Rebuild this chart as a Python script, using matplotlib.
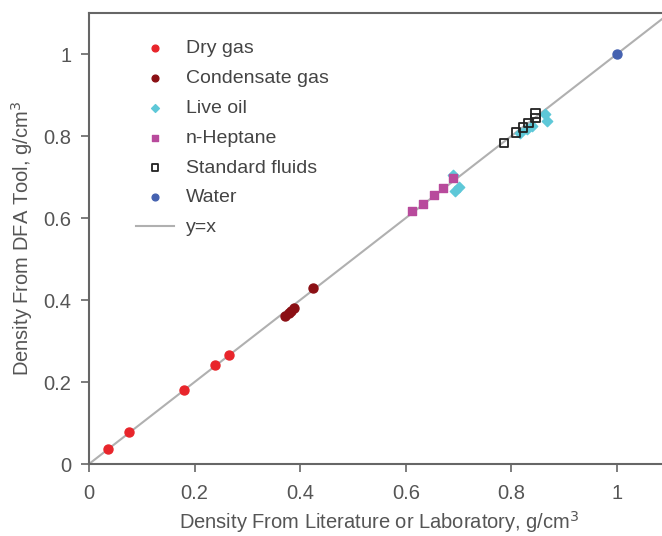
import matplotlib
matplotlib.use("Agg")
import matplotlib.pyplot as plt

plt.rcParams['font.family'] = ['Liberation Sans', 'DejaVu Sans']

# densidades (literatura/laboratorio x ferramenta DFA)
dry_x = [0.036, 0.076, 0.180, 0.239, 0.265]
dry_y = [0.036, 0.078, 0.180, 0.241, 0.265]

cond_x = [0.372, 0.378, 0.383, 0.389, 0.424]
cond_y = [0.362, 0.368, 0.374, 0.380, 0.430]

oil_x = [0.690, 0.693, 0.700, 0.816, 0.829, 0.839, 0.864, 0.867]
oil_y = [0.705, 0.665, 0.675, 0.808, 0.818, 0.825, 0.854, 0.837]

hep_x = [0.612, 0.633, 0.653, 0.670, 0.689]
hep_y = [0.616, 0.635, 0.657, 0.674, 0.698]

std_x = [0.786, 0.809, 0.822, 0.833, 0.845, 0.845]
std_y = [0.783, 0.808, 0.820, 0.832, 0.844, 0.854]

water_x = [1.0]
water_y = [1.0]

line_x = [0, 1.1]

fig = plt.figure(figsize=(6.62, 5.36), dpi=100)
ax = fig.add_axes([0.1344, 0.1343, 0.8773, 0.8414])

ax.plot(line_x, line_x, color="#b0b0b0", lw=1.5, label="y=x", zorder=1)
ax.scatter(dry_x, dry_y, s=42, color="#e8252b", label="Dry gas", zorder=3)
ax.scatter(cond_x, cond_y, s=42, color="#8b0f14", label="Condensate gas", zorder=3)
ax.scatter(oil_x, oil_y, s=28, marker="D", color="#5ec8d8", label="Live oil", zorder=3)
ax.scatter(hep_x, hep_y, s=40, marker="s", color="#b84a9c", label="n-Heptane", zorder=3)
ax.scatter(std_x, std_y, s=40, marker="s", facecolors="none", edgecolors="#222222",
           linewidths=1.3, label="Standard fluids", zorder=4)
ax.scatter(water_x, water_y, s=42, color="#4562b0", label="Water", zorder=3)

ax.set_xlim(0, 1.1)
ax.set_ylim(0, 1.1)
ax.set_xticks([0, 0.2, 0.4, 0.6, 0.8, 1])
ax.set_xticklabels(["0", "0.2", "0.4", "0.6", "0.8", "1"])
ax.set_yticks([0, 0.2, 0.4, 0.6, 0.8, 1])
ax.set_yticklabels(["0", "0.2", "0.4", "0.6", "0.8", "1"])

for s in ax.spines.values():
    s.set_color("#666666")
    s.set_linewidth(1.5)
ax.tick_params(direction="out", length=5.5, width=1.2, color="#666666",
               labelcolor="#555555", labelsize=14.5)
ax.tick_params(axis="x", pad=9)
ax.tick_params(axis="y", pad=7)

ax.set_xlabel("Density From Literature or Laboratory, g/cm$^3$", color="#555555",
              fontsize=14.5, labelpad=4)
ax.set_ylabel("Density From DFA Tool, g/cm$^3$", color="#555555", fontsize=14.5,
              labelpad=6)

h, l = ax.get_legend_handles_labels()
order = [1, 2, 3, 4, 5, 6, 0]
leg = ax.legend([h[i] for i in order], [l[i] for i in order], loc="upper left",
                frameon=False, fontsize=14, labelspacing=0.63, handlelength=2.0,
                handletextpad=0.6, bbox_to_anchor=(0.05, 0.98),
                scatterpoints=1, markerscale=0.75)
for t in leg.get_texts():
    t.set_color("#444444")

fig.savefig("out.png", dpi=100)
plt.close(fig)
